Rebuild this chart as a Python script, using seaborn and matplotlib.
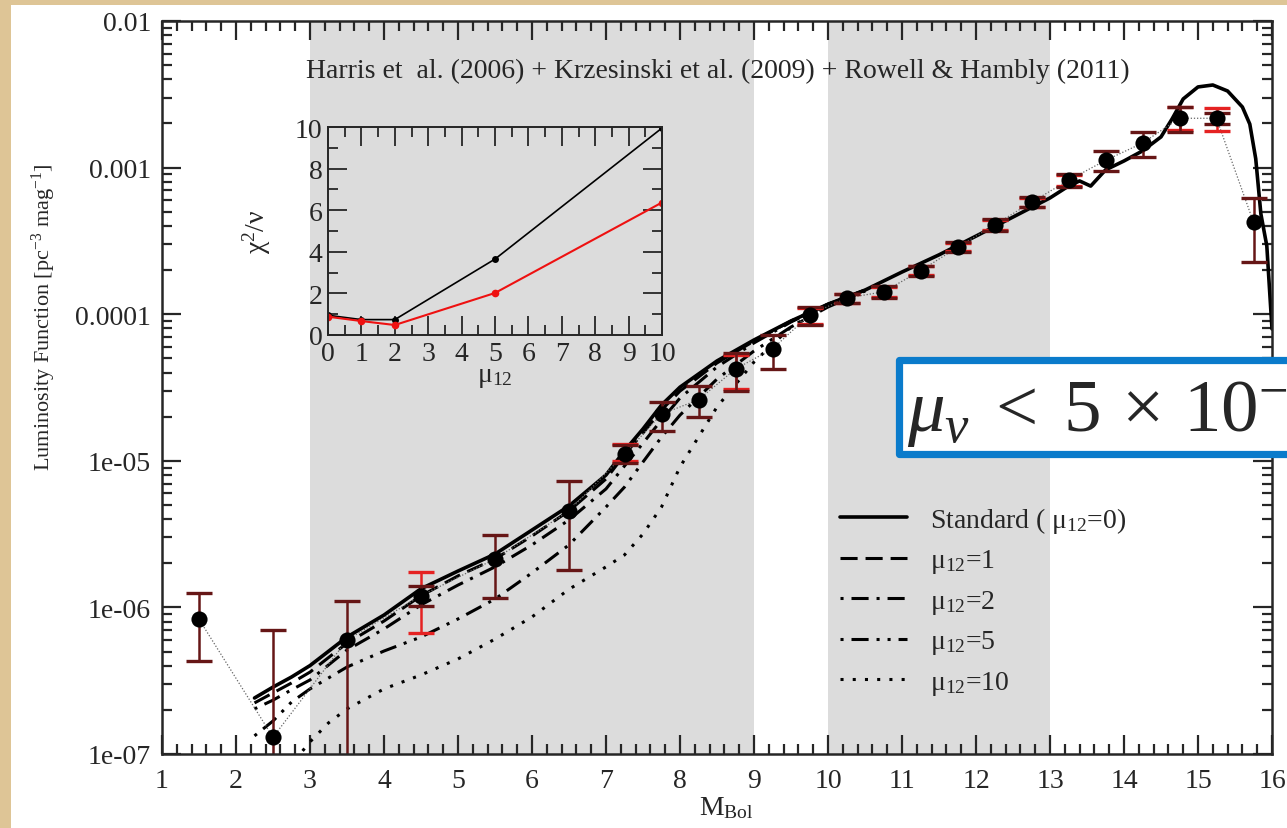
import numpy as np
import pandas as pd
import matplotlib
matplotlib.use("Agg")
import matplotlib.pyplot as plt
import seaborn as sns
from matplotlib.patches import Rectangle
from matplotlib.lines import Line2D

sns.set_style("ticks")
plt.rcParams["font.family"] = ["Liberation Serif", "DejaVu Serif"]
plt.rcParams["mathtext.fontset"] = "custom"
plt.rcParams["mathtext.rm"] = "Liberation Serif"
plt.rcParams["mathtext.it"] = "Liberation Serif:italic"
plt.rcParams["mathtext.bf"] = "Liberation Serif:bold"

# ---------------- data ----------------
obs_x = [1.5, 2.5, 3.5, 4.5, 5.5, 6.5, 7.25, 7.75, 8.25, 8.75, 9.25, 9.75,
         10.25, 10.75, 11.25, 11.75, 12.25, 12.75, 13.25, 13.75, 14.25, 14.75, 15.25, 15.75]
obs_y = [8.3e-7, 1.3e-7, 6.0e-7, 1.2e-6, 2.14e-6, 4.55e-6, 1.11e-5, 2.08e-5, 2.61e-5, 4.23e-5,
         5.8e-5, 9.9e-5, 1.29e-4, 1.42e-4, 1.98e-4, 2.86e-4, 4.06e-4, 5.8e-4, 8.2e-4, 1.12e-3,
         1.47e-3, 2.17e-3, 2.17e-3, 4.24e-4]
err_hi = [1.26e-6, 7.0e-7, 1.1e-6, 1.4e-6, 3.13e-6, 7.3e-6, 1.28e-5, 2.5e-5, 3.25e-5, 5.4e-5,
          7.2e-5, 1.12e-4, 1.37e-4, 1.55e-4, 2.14e-4, 3.11e-4, 4.46e-4, 6.3e-4, 9.03e-4, 1.30e-3,
          1.76e-3, 2.6e-3, 2.34e-3, 6.2e-4]
err_lo = [4.3e-7, 1e-8, 1e-8, 1.02e-6, 1.16e-6, 1.8e-6, 9.7e-6, 1.6e-5, 2.0e-5, 3.0e-5,
          4.2e-5, 8.4e-5, 1.19e-4, 1.29e-4, 1.83e-4, 2.66e-4, 3.70e-4, 5.38e-4, 7.41e-4, 9.5e-4,
          1.18e-3, 1.74e-3, 1.98e-3, 2.28e-4]
nan = np.nan
red_hi = [nan, nan, nan, 1.74e-6, nan, nan, 1.3e-5, nan, nan, 5.3e-5, nan, 1.1e-4,
          1.38e-4, 1.53e-4, 2.12e-4, 3.08e-4, 4.4e-4, 6.25e-4, 8.9e-4, nan, nan, 2.6e-3, 2.54e-3, nan]
red_lo = [nan, nan, nan, 6.7e-7, nan, nan, 1.0e-5, nan, nan, 3.1e-5, nan, 8.6e-5,
          1.2e-4, 1.31e-4, 1.85e-4, 2.68e-4, 3.75e-4, 5.42e-4, 7.5e-4, nan, nan, 1.8e-3, 1.79e-3, nan]

std_x = [2.25, 2.5, 2.75, 3.0, 3.5, 4.0, 4.5, 5.0, 5.5, 6.0, 6.5, 7.0, 7.25, 7.5, 7.75, 8.0,
         8.5, 9.0, 9.5, 10.0, 10.5, 11.0, 11.5, 12.0, 12.5, 13.0, 13.25, 13.4, 13.55, 13.75,
         14.0, 14.25, 14.5, 14.65, 14.8, 15.0, 15.2, 15.4, 15.6, 15.7, 15.78, 15.85, 15.93, 16.0]
std_y = [2.41e-7, 2.86e-7, 3.35e-7, 4.01e-7, 6.28e-7, 8.87e-7, 1.34e-6, 1.77e-6, 2.31e-6, 3.37e-6,
         4.92e-6, 8.0e-6, 1.17e-5, 1.65e-5, 2.40e-5, 3.18e-5, 4.80e-5, 6.67e-5, 8.99e-5, 1.17e-4,
         1.46e-4, 1.94e-4, 2.54e-4, 3.41e-4, 4.60e-4, 6.21e-4, 7.48e-4, 8.11e-4, 7.48e-4, 9.64e-4,
         1.11e-3, 1.30e-3, 1.62e-3, 2.15e-3, 2.94e-3, 3.55e-3, 3.66e-3, 3.33e-3, 2.59e-3, 1.98e-3,
         1.15e-3, 4.82e-4, 2.92e-4, 7.93e-5]

mod_x = [2.25, 2.5, 2.75, 3.0, 3.5, 4.0, 4.5, 5.0, 5.5, 6.0, 6.5, 7.0, 7.25, 7.5, 7.75, 8.0,
         8.5, 9.0, 9.5, 10.0, 10.5]
mu1_y = [2.23e-7, 2.61e-7, 3.05e-7, 3.62e-7, 5.71e-7, 8.07e-7, 1.20e-6, 1.64e-6, 2.14e-6, 3.07e-6,
         4.55e-6, 7.52e-6, 1.10e-5, 1.55e-5, 2.22e-5, 2.99e-5, 4.65e-5, 6.56e-5, 8.99e-5, 1.17e-4, 1.46e-4]
mu2_y = [2.03e-7, 2.33e-7, 2.74e-7, 3.20e-7, 5.12e-7, 7.13e-7, 1.04e-6, 1.42e-6, 1.89e-6, 2.67e-6,
         3.95e-6, 6.43e-6, 9.22e-6, 1.32e-5, 1.90e-5, 2.68e-5, 4.37e-5, 6.37e-5, 8.85e-5, 1.17e-4, 1.46e-4]
mu5_y = [1.33e-7, 1.68e-7, 2.26e-7, 2.78e-7, 3.92e-7, 5.04e-7, 6.28e-7, 8.34e-7, 1.14e-6, 1.72e-6,
         2.67e-6, 4.84e-6, 6.62e-6, 9.82e-6, 1.45e-5, 2.05e-5, 3.61e-5, 5.61e-5, 8.18e-5, 1.12e-4, 1.44e-4]
mu10_x = [2.9, 3.0, 3.25, 3.5, 4.0, 4.5, 5.0, 5.5, 6.0, 6.5, 7.0, 7.25, 7.5, 7.75, 8.0,
          8.5, 9.0, 9.5, 10.0, 10.5]
mu10_y = [1.05e-7, 1.21e-7, 1.63e-7, 2.03e-7, 2.78e-7, 3.46e-7, 4.45e-7, 6.08e-7, 8.61e-7, 1.33e-6,
          1.89e-6, 2.28e-6, 3.17e-6, 4.84e-6, 9.08e-6, 2.33e-5, 4.72e-5, 8.18e-5, 1.16e-4, 1.44e-4]

inset_mu = [0, 1, 2, 5, 10]
chi_black = [0.95, 0.74, 0.74, 3.65, 9.95]
chi_red = [0.88, 0.67, 0.48, 2.02, 6.37]

shaded = [(3, 9), (10, 13)]
xticks_main = list(range(1, 17))
yticks_main = [1e-7, 1e-6, 1e-5, 1e-4, 1e-3, 1e-2]
ytick_labels = ["1e-07", "1e-06", "1e-05", "0.0001", "0.001", "0.01"]
legend_labels = ["Standard ( \u03bc$_{12}$=0)", "\u03bc$_{12}$=1", "\u03bc$_{12}$=2",
                 "\u03bc$_{12}$=5", "\u03bc$_{12}$=10"]
title_text = "Harris et  al. (2006) + Krzesinski et al. (2009) + Rowell & Hambly (2011)"

# ---------------- styles ----------------
BEIGE = "#DEC596"
GRAY = "#DCDCDC"
DARKRED = "#661616"
RED = "#E52222"
BLUE = "#0A7BCB"
FS = 20

W, H = 1287, 829
fig = plt.figure(figsize=(W / 100, H / 100), dpi=100)
fig.patch.set_facecolor(BEIGE)
fig.add_artist(Rectangle((11 / W, 0), 1, (H - 6) / H, transform=fig.transFigure,
                         facecolor="white", edgecolor="none", zorder=-5))

ax = fig.add_axes([162 / W, 1 - 755 / H, 1110 / W, 733 / H])
ax.set_facecolor("white")
for a, b in shaded:
    ax.axvspan(a, b, color=GRAY, lw=0, zorder=0)

ls_mu1 = (0, (5.6, 2.6))
ls_mu2 = (0, (1.0, 2.6, 5.6, 2.6))
ls_mu5 = (0, (1.0, 2.6, 5.6, 2.6, 1.0, 2.6))
ls_mu10 = (0, (1.0, 3.0))

sns.lineplot(x=mu10_x, y=mu10_y, ax=ax, color="black", lw=2.2, linestyle=ls_mu10, sort=False, zorder=2)
sns.lineplot(x=mod_x, y=mu5_y, ax=ax, color="black", lw=2.2, linestyle=ls_mu5, sort=False, zorder=2)
sns.lineplot(x=mod_x, y=mu2_y, ax=ax, color="black", lw=2.2, linestyle=ls_mu2, sort=False, zorder=2)
sns.lineplot(x=mod_x, y=mu1_y, ax=ax, color="black", lw=2.2, linestyle=ls_mu1, sort=False, zorder=2)
sns.lineplot(x=std_x, y=std_y, ax=ax, color="black", lw=2.6, sort=False, zorder=2.2)

ox = np.array(obs_x)
oy = np.array(obs_y)
rh = np.array(red_hi)
rl = np.array(red_lo)
m = np.isfinite(rh)
ax.errorbar(ox[m], oy[m], yerr=[oy[m] - rl[m], rh[m] - oy[m]], fmt="none", ecolor=RED,
            elinewidth=1.8, capsize=9.5, capthick=2.4, zorder=3)
ax.errorbar(ox, oy, yerr=[oy - np.array(err_lo), np.array(err_hi) - oy], fmt="none",
            ecolor=DARKRED, elinewidth=1.8, capsize=9.5, capthick=2.4, zorder=3.1)
ax.plot(ox, oy, linestyle=(0, (1, 1.5)), color="#666666", lw=0.9, zorder=2.5)
sns.scatterplot(x=obs_x, y=obs_y, ax=ax, color="black", s=135, edgecolor="black", linewidth=0, zorder=4)

ax.set_yscale("log")
ax.set_xlim(1, 16)
ax.set_ylim(1e-7, 1e-2)
ax.set_xticks(xticks_main)
ax.set_xticklabels([str(t) for t in xticks_main])
ax.xaxis.set_minor_locator(matplotlib.ticker.MultipleLocator(0.2))
ax.set_yticks(yticks_main)
ax.set_yticklabels(ytick_labels)
ax.yaxis.set_minor_locator(matplotlib.ticker.LogLocator(base=10, subs=np.arange(2, 10)))
ax.yaxis.set_minor_formatter(matplotlib.ticker.NullFormatter())
ax.tick_params(which="both", direction="in", top=True, right=True, width=1.6, labelsize=FS)
ax.tick_params(which="major", length=14)
ax.tick_params(axis="x", which="major", pad=10)
ax.tick_params(axis="y", which="major", pad=8)
ax.tick_params(which="minor", length=7)
for sp in ax.spines.values():
    sp.set_linewidth(1.8)
    sp.set_zorder(5)

ax.set_ylabel("Luminosity Function [pc$^{-3}$ mag$^{-1}$]", fontsize=16)
ax.yaxis.set_label_coords(-0.094, 0.5975)
ax.set_xlabel("M$_{\\mathrm{Bol}}$", fontsize=FS)
ax.xaxis.set_label_coords(0.508, -0.055)
ax.text(0.501, 0.932, title_text, transform=ax.transAxes, ha="center", va="center", fontsize=FS)

handles = [
    Line2D([], [], color="black", lw=2.6),
    Line2D([], [], color="black", lw=2.2, linestyle=ls_mu1),
    Line2D([], [], color="black", lw=2.2, linestyle=ls_mu2),
    Line2D([], [], color="black", lw=2.2, linestyle=ls_mu5),
    Line2D([], [], color="black", lw=2.2, linestyle=ls_mu10),
]
ax.legend(handles, legend_labels, loc="upper left", bbox_to_anchor=(0.611, 0.340),
          frameon=False, fontsize=FS, handlelength=2.41, handletextpad=0.83,
          labelspacing=0.45, borderpad=0, borderaxespad=0)

# ---------------- inset ----------------
ins = fig.add_axes([328 / W, 1 - 336 / H, 334 / W, 208 / H])
ins.set_facecolor("none")
sns.lineplot(x=inset_mu, y=chi_black, ax=ins, color="black", lw=1.2, marker="o", ms=5,
             markeredgewidth=0, sort=False)
sns.lineplot(x=inset_mu, y=chi_red, ax=ins, color="#EE1111", lw=1.5, marker="o", ms=5.5,
             markeredgewidth=0, sort=False)
ins.set_xlim(0, 10)
ins.set_ylim(0, 10)
ins.set_xticks(range(0, 11))
ins.set_yticks(range(0, 11, 2))
ins.xaxis.set_minor_locator(matplotlib.ticker.MultipleLocator(0.5))
ins.yaxis.set_minor_locator(matplotlib.ticker.MultipleLocator(1))
ins.tick_params(which="both", direction="in", top=True, right=True, width=1.3, labelsize=FS)
ins.tick_params(which="major", length=14, pad=4)
ins.tick_params(which="minor", length=7)
for sp in ins.spines.values():
    sp.set_linewidth(1.4)
ins.set_ylabel("\u03c7$^{2}$/\u03bd", fontsize=FS)
ins.yaxis.set_label_coords(-0.165, 0.5)
ins.set_xlabel("\u03bc$_{12}$", fontsize=FS)
ins.xaxis.set_label_coords(0.5, -0.14)

# ---------------- blue annotation box ----------------
fig.add_artist(Rectangle((899 / W, 1 - 454.5 / H), (1340 - 899) / W, 94 / H,
                         transform=fig.transFigure, facecolor="white", edgecolor=BLUE,
                         lw=5.2, joinstyle="round", zorder=10))
fig.text(907 / W, 1 - 432 / H, r"$\mu_\nu\;<\;5\,\times\,10^{-12}$", fontsize=54,
         va="baseline", ha="left", zorder=11)

fig.savefig("out.png", dpi=100, facecolor=fig.get_facecolor())
